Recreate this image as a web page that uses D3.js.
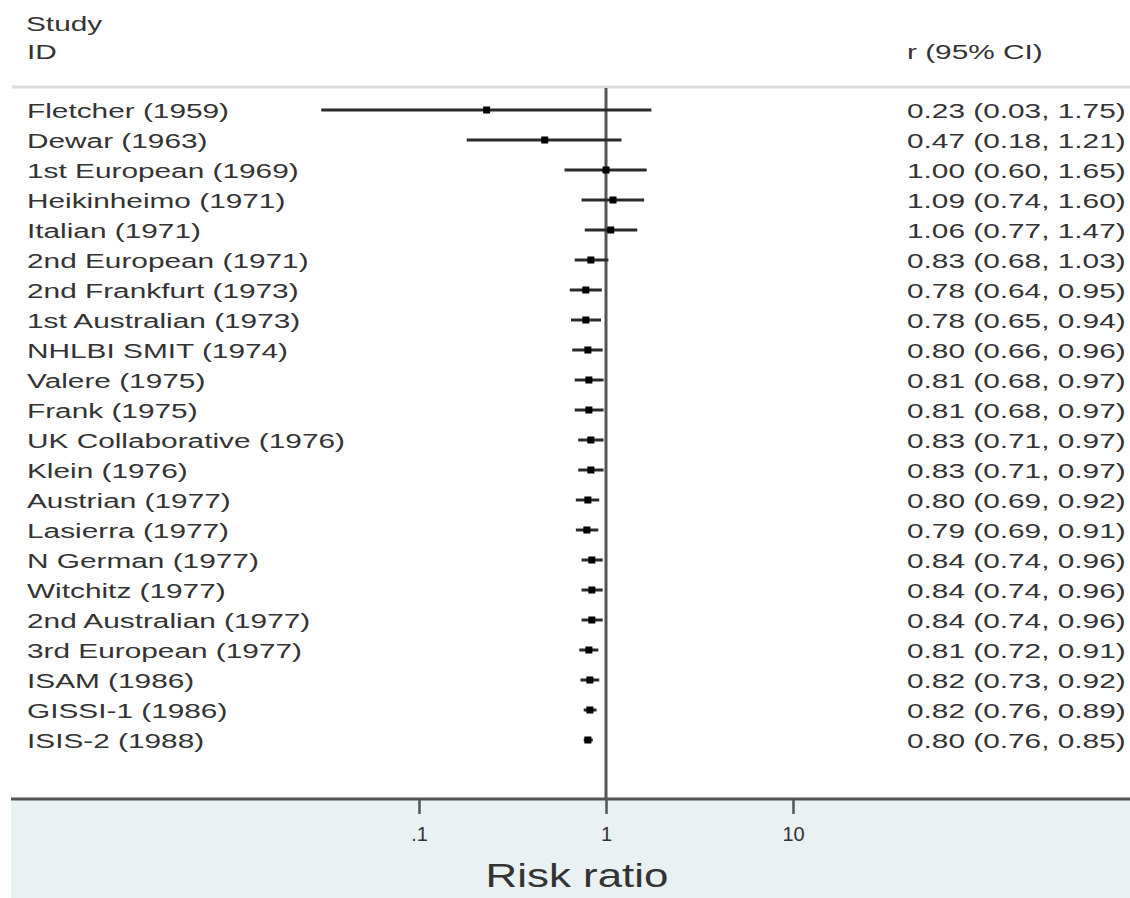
<!DOCTYPE html>
<html lang="en">
<head>
<meta charset="UTF-8">
<title>Cumulative meta-analysis - Risk ratio</title>
<script src="https://d3js.org/d3.v7.min.js"></script>
<style>
  body { margin: 0; background: #fff; }
  svg { display: block; }
  text { font-family: "Liberation Sans", Arial, sans-serif; fill: #333; }
</style>
</head>
<body>
<div id="chart"></div>
<script>
// studies (cumulative), estimate and 95% CI
var studies = ["Fletcher (1959)", "Dewar (1963)", "1st European (1969)", "Heikinheimo (1971)",
  "Italian (1971)", "2nd European (1971)", "2nd Frankfurt (1973)", "1st Australian (1973)",
  "NHLBI SMIT (1974)", "Valere (1975)", "Frank (1975)", "UK Collaborative (1976)",
  "Klein (1976)", "Austrian (1977)", "Lasierra (1977)", "N German (1977)", "Witchitz (1977)",
  "2nd Australian (1977)", "3rd European (1977)", "ISAM (1986)", "GISSI-1 (1986)", "ISIS-2 (1988)"];
var rr    = [0.23, 0.47, 1.00, 1.09, 1.06, 0.83, 0.78, 0.78, 0.80, 0.81, 0.81, 0.83, 0.83, 0.80, 0.79, 0.84, 0.84, 0.84, 0.81, 0.82, 0.82, 0.80];
var lower = [0.03, 0.18, 0.60, 0.74, 0.77, 0.68, 0.64, 0.65, 0.66, 0.68, 0.68, 0.71, 0.71, 0.69, 0.69, 0.74, 0.74, 0.74, 0.72, 0.73, 0.76, 0.76];
var upper = [1.75, 1.21, 1.65, 1.60, 1.47, 1.03, 0.95, 0.94, 0.96, 0.97, 0.97, 0.97, 0.97, 0.92, 0.91, 0.96, 0.96, 0.96, 0.91, 0.92, 0.89, 0.85];
var tickVals = [0.1, 1, 10];
var tickLabels = [".1", "1", "10"];

var W = 1130, H = 898;
var axisY = 799;
var sx = 1.42; // horizontal stretch of the text in the picture
var leftX = 27, rightX = 907;

var svg = d3.select("#chart").append("svg")
  .attr("width", W).attr("height", H);

var x = d3.scaleLog().domain([0.01, 100]).range([232, 980]);
var y = d3.scaleLinear().domain([0, studies.length - 1]).range([110, 740]);
var f2 = d3.format(".2f");

function label(px, py, str, size, stretch, anchor) {
  return svg.append("text")
    .attr("transform", "translate(" + px + "," + py + ") scale(" + stretch + ",1)")
    .attr("font-size", size)
    .attr("text-anchor", anchor || "start")
    .text(str);
}

// bottom panel
svg.append("rect").attr("x", 11).attr("y", axisY).attr("width", W - 11).attr("height", H - axisY)
  .attr("fill", "#e9f1f3");

// header
label(leftX - 1, 31, "Study", 21, sx);
label(leftX, 59, "ID", 21, sx);
label(rightX, 59, "r (95% CI)", 21, sx);
svg.append("line").attr("x1", 12).attr("x2", W).attr("y1", 87).attr("y2", 87)
  .attr("stroke", "#dcdcdc").attr("stroke-width", 3);

// null line
svg.append("line").attr("x1", x(1)).attr("x2", x(1)).attr("y1", 88).attr("y2", axisY)
  .attr("stroke", "#555").attr("stroke-width", 3);

// rows
var idx = d3.range(studies.length);
svg.selectAll(".ci").data(idx).enter().append("line")
  .attr("class", "ci")
  .attr("x1", function(i){ return x(lower[i]); })
  .attr("x2", function(i){ return x(upper[i]); })
  .attr("y1", function(i){ return y(i); })
  .attr("y2", function(i){ return y(i); })
  .attr("stroke", "#2a2a2a").attr("stroke-width", 3);

svg.selectAll(".pt").data(idx).enter().append("rect")
  .attr("class", "pt")
  .attr("x", function(i){ return x(rr[i]) - 3.5; })
  .attr("y", function(i){ return y(i) - 3.5; })
  .attr("width", 7).attr("height", 7)
  .attr("fill", "#000");

idx.forEach(function(i){
  label(leftX, y(i) + 8, studies[i], 21, sx);
  label(rightX, y(i) + 8, f2(rr[i]) + " (" + f2(lower[i]) + ", " + f2(upper[i]) + ")", 21, sx);
});

// x axis
svg.append("line").attr("x1", 11).attr("x2", W).attr("y1", axisY).attr("y2", axisY)
  .attr("stroke", "#555").attr("stroke-width", 3);

var axis = d3.axisBottom(x).tickValues(tickVals)
  .tickFormat(function(d, i){ return tickLabels[i]; })
  .tickSize(15).tickPadding(13);
var gx = svg.append("g").attr("transform", "translate(0," + axisY + ")").call(axis);
gx.select(".domain").remove();
gx.selectAll(".tick line").attr("stroke", "#555").attr("stroke-width", 2.5);
gx.selectAll(".tick text").attr("font-size", 20).attr("fill", "#333");

label(577, 887, "Risk ratio", 33, 1.33, "middle");
</script>
</body>
</html>
